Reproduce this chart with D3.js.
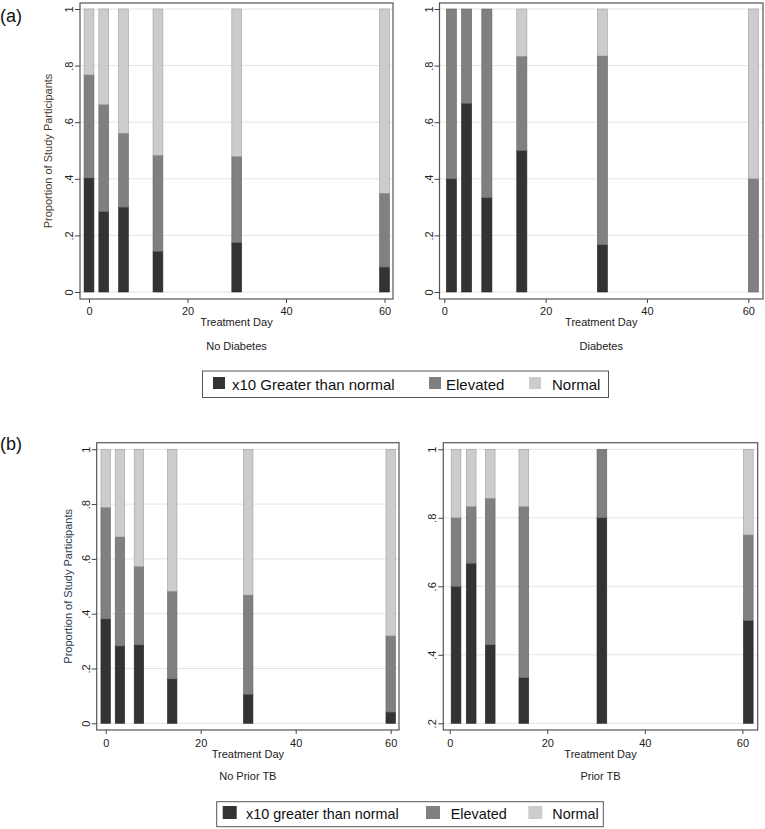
<!DOCTYPE html>
<html>
<head>
<meta charset="utf-8">
<script src="https://cdn.jsdelivr.net/npm/d3@7"></script>
<style>
  body { margin: 0; background: #fff; }
  svg { display: block; font-family: "Liberation Sans", Arial, sans-serif; }
</style>
</head>
<body>
<svg id="chart" width="765" height="829"></svg>
<script>
// ---------------- DATA ----------------
const categories = ["x10", "elevated", "normal"];
const legendLabelsA = ["x10 Greater than normal", "Elevated", "Normal"];
const legendLabelsB = ["x10 greater than normal", "Elevated", "Normal"];
const xTicks = [0, 20, 40, 60];
const yTicksFull = [0, 0.2, 0.4, 0.6, 0.8, 1];
const yTicksPriorTB = [0.2, 0.4, 0.6, 0.8, 1];

// (a) No Diabetes
const daysNoDiabetes = [0, 3, 7, 14, 30, 60];
const x10NoDiabetes = [0.403, 0.284, 0.300, 0.144, 0.175, 0.088];
const elevNoDiabetes = [0.364, 0.378, 0.261, 0.339, 0.304, 0.261];
const normNoDiabetes = [0.233, 0.338, 0.439, 0.517, 0.521, 0.651];

// (a) Diabetes
const daysDiabetes = [1.4, 4.4, 8.4, 15.3, 31.2, 61.0];
const x10Diabetes = [0.400, 0.667, 0.333, 0.500, 0.167, 0.000];
const elevDiabetes = [0.600, 0.333, 0.667, 0.333, 0.667, 0.400];
const normDiabetes = [0.000, 0.000, 0.000, 0.167, 0.166, 0.600];

// (b) No Prior TB
const daysNoPriorTB = [0, 3, 7, 14, 30, 60];
const x10NoPriorTB = [0.381, 0.282, 0.286, 0.162, 0.106, 0.041];
const elevNoPriorTB = [0.407, 0.398, 0.286, 0.320, 0.362, 0.278];
const normNoPriorTB = [0.212, 0.320, 0.428, 0.518, 0.532, 0.681];

// (b) Prior TB
const daysPriorTB = [1.3, 4.4, 8.3, 15.2, 31.2, 61.2];
const x10PriorTB = [0.600, 0.667, 0.429, 0.333, 0.800, 0.500];
const elevPriorTB = [0.200, 0.166, 0.428, 0.500, 0.200, 0.250];
const normPriorTB = [0.200, 0.167, 0.143, 0.167, 0.000, 0.250];

// ---------------- STYLE ----------------
const colors = { x10: "#333333", elevated: "#808080", normal: "#cccccc" };
const barWidthDays = 2;

const svg = d3.select("#chart");

function tickFmt(d) {
  if (d === 0) return "0";
  if (d === 1) return "1";
  return d3.format(".1f")(d).replace(/^0/, "");
}

function panel(cfg) {
  const g = svg.append("g");
  const x = d3.scaleLinear().domain([0, 60]).range([cfg.x0, cfg.x60]);
  const y = d3.scaleLinear().domain([cfg.yTicks[0], 1]).range([cfg.yBot, cfg.yTop]);

  // gridlines
  g.append("g").selectAll("line").data(cfg.yTicks).join("line")
    .attr("x1", cfg.box[0]).attr("x2", cfg.box[2])
    .attr("y1", d => y(d)).attr("y2", d => y(d))
    .attr("stroke", "#e4e4e4").attr("stroke-width", 1);

  // stacked bars
  const rows = cfg.days.map((d, i) => ({ day: d, x10: cfg.x10[i], elevated: cfg.elev[i], normal: cfg.norm[i] }));
  const stacked = d3.stack().keys(categories)(rows);
  const base = cfg.yTicks[0];
  const clip = v => Math.max(base, v);
  g.append("g").selectAll("g").data(stacked).join("g")
    .attr("fill", s => colors[s.key])
    .attr("stroke", s => d3.color(colors[s.key]).darker(0.7))
    .attr("stroke-width", 0.6)
    .selectAll("rect").data(s => s.filter(p => clip(p[1]) > clip(p[0]) + 1e-6)).join("rect")
    .attr("x", p => x(p.data.day - barWidthDays / 2))
    .attr("width", p => x(p.data.day + barWidthDays / 2) - x(p.data.day - barWidthDays / 2))
    .attr("y", p => y(clip(p[1])))
    .attr("height", p => y(clip(p[0])) - y(clip(p[1])));

  // frame
  g.append("rect")
    .attr("x", cfg.box[0]).attr("y", cfg.box[1])
    .attr("width", cfg.box[2] - cfg.box[0]).attr("height", cfg.box[3] - cfg.box[1])
    .attr("fill", "none").attr("stroke", "#555").attr("stroke-width", 1.2);

  // y axis
  const ya = g.append("g").attr("transform", `translate(${cfg.box[0]},0)`)
    .call(d3.axisLeft(y).tickValues(cfg.yTicks).tickFormat(tickFmt).tickSize(5));
  ya.select(".domain").remove();
  ya.selectAll(".tick line").attr("stroke", "#444");
  ya.selectAll(".tick text")
    .attr("transform", "rotate(-90)")
    .attr("text-anchor", "middle")
    .attr("x", 0).attr("y", -7).attr("dy", 0)
    .attr("font-size", 11).attr("fill", "#222")
    .attr("font-family", "Liberation Sans, Arial, sans-serif");

  // x axis
  const xa = g.append("g").attr("transform", `translate(0,${cfg.box[3]})`)
    .call(d3.axisBottom(x).tickValues(xTicks).tickFormat(d3.format("d")).tickSize(4));
  xa.select(".domain").remove();
  xa.selectAll(".tick line").attr("stroke", "#444");
  xa.selectAll(".tick text")
    .attr("y", cfg.tickLabelY).attr("dy", 0)
    .attr("font-size", 11).attr("fill", "#222")
    .attr("font-family", "Liberation Sans, Arial, sans-serif");

  const cx = (cfg.box[0] + cfg.box[2]) / 2;
  g.append("text").attr("x", cx).attr("y", cfg.xTitleY)
    .attr("text-anchor", "middle").attr("font-size", 11).attr("fill", "#222")
    .text("Treatment Day");
  g.append("text").attr("x", cx).attr("y", cfg.subTitleY)
    .attr("text-anchor", "middle").attr("font-size", 11).attr("fill", "#222")
    .text(cfg.subtitle);

  if (cfg.yTitle) {
    const cy = (cfg.box[1] + cfg.box[3]) / 2;
    g.append("text")
      .attr("transform", `translate(${cfg.yTitleX},${cy}) rotate(-90)`)
      .attr("text-anchor", "middle").attr("font-size", 11)
      .attr("fill", cfg.yTitleColor)
      .text("Proportion of Study Participants");
  }
}

function legend(cfg) {
  const g = svg.append("g");
  g.append("rect")
    .attr("x", cfg.box[0]).attr("y", cfg.box[1])
    .attr("width", cfg.box[2] - cfg.box[0]).attr("height", cfg.box[3] - cfg.box[1])
    .attr("fill", "#fff").attr("stroke", "#555").attr("stroke-width", 1);
  const items = g.selectAll("g").data(categories).join("g");
  items.append("rect")
    .attr("x", (d, i) => cfg.swatchX[i]).attr("y", cfg.swatchY)
    .attr("width", cfg.swatchW).attr("height", cfg.swatchH)
    .attr("fill", d => colors[d]);
  items.append("text")
    .attr("x", (d, i) => cfg.textX[i]).attr("y", cfg.textY)
    .attr("font-size", cfg.fontSize).attr("fill", "#111")
    .text((d, i) => cfg.labels[i]);
}

// panel labels
svg.append("text").attr("x", 0).attr("y", 22).attr("font-size", 18).attr("fill", "#111").text("(a)");
svg.append("text").attr("x", 0).attr("y", 450).attr("font-size", 18).attr("fill", "#111").text("(b)");

panel({
  box: [80, 3, 393, 299], x0: 89, x60: 384.5, yTop: 9, yBot: 292,
  yTicks: yTicksFull, days: daysNoDiabetes, x10: x10NoDiabetes, elev: elevNoDiabetes, norm: normNoDiabetes,
  tickLabelY: 16, xTitleY: 326, subTitleY: 350, subtitle: "No Diabetes",
  yTitle: true, yTitleX: 52, yTitleColor: "#4a3a2c"
});
panel({
  box: [439.5, 3, 763, 299], x0: 444.3, x60: 748.3, yTop: 9, yBot: 292,
  yTicks: yTicksFull, days: daysDiabetes, x10: x10Diabetes, elev: elevDiabetes, norm: normDiabetes,
  tickLabelY: 16, xTitleY: 326, subTitleY: 350, subtitle: "Diabetes", yTitle: false
});
panel({
  box: [96.7, 442.7, 399, 730], x0: 105.7, x60: 390.7, yTop: 449.3, yBot: 723.3,
  yTicks: yTicksFull, days: daysNoPriorTB, x10: x10NoPriorTB, elev: elevNoPriorTB, norm: normNoPriorTB,
  tickLabelY: 17, xTitleY: 758, subTitleY: 780, subtitle: "No Prior TB",
  yTitle: true, yTitleX: 72, yTitleColor: "#2c3850"
});
panel({
  box: [443.3, 442.7, 757.7, 730], x0: 449.7, x60: 742.4, yTop: 449.3, yBot: 723.3,
  yTicks: yTicksPriorTB, days: daysPriorTB, x10: x10PriorTB, elev: elevPriorTB, norm: normPriorTB,
  tickLabelY: 17, xTitleY: 758, subTitleY: 780, subtitle: "Prior TB", yTitle: false
});

legend({
  box: [202.5, 371, 608.5, 397.5], swatchX: [213, 429, 529], swatchY: 377, swatchW: 12, swatchH: 12,
  textX: [232, 446, 552], textY: 389.5, fontSize: 15, labels: legendLabelsA
});
legend({
  box: [216.7, 801.7, 603.3, 826.7], swatchX: [222.7, 426, 528.3], swatchY: 806, swatchW: 14, swatchH: 13,
  textX: [246, 450.7, 552.3], textY: 818.5, fontSize: 14.4, labels: legendLabelsB
});
</script>
</body>
</html>
